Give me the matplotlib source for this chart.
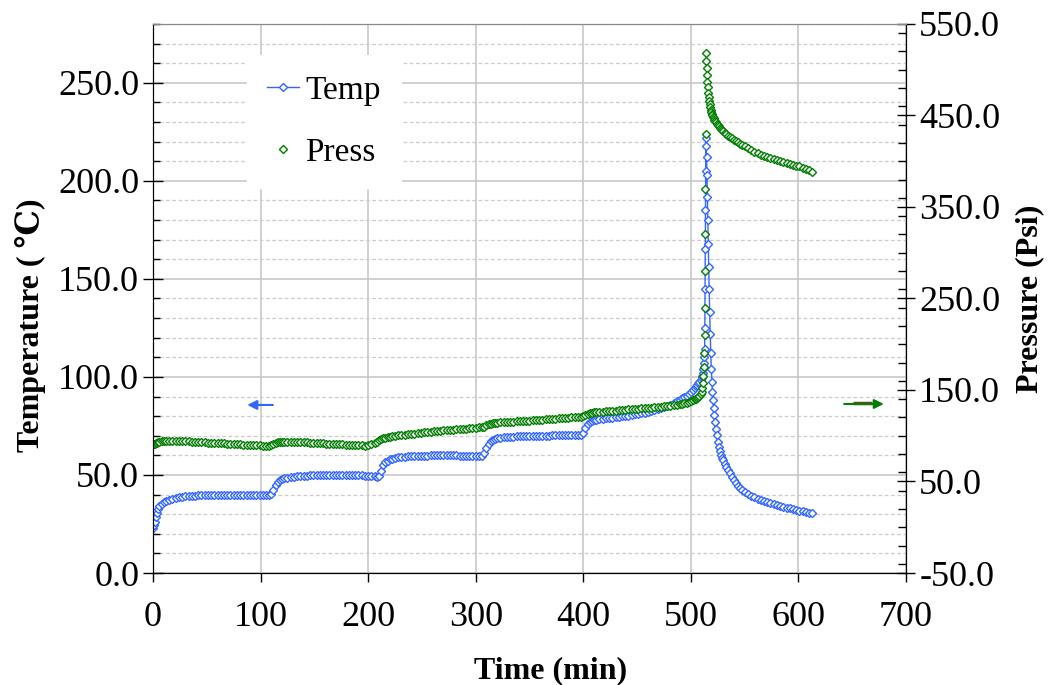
import matplotlib
matplotlib.use("Agg")
import matplotlib.pyplot as plt
from matplotlib.lines import Line2D
from matplotlib.ticker import MultipleLocator, FormatStrFormatter

plt.rcParams['font.family'] = ['Liberation Serif', 'DejaVu Serif']

# time (min)
time_min = [
    0, 1, 2, 3, 4, 5, 6, 8, 10, 12,
    15, 18, 21, 24, 27, 30, 33, 36, 39, 42, 45, 48, 51, 54, 57, 60,
    63, 66, 69, 72, 75, 78, 81, 84, 87, 90, 93, 96, 99, 102, 105, 108,
    110, 112, 114, 116, 118, 120, 122,
    125, 128, 131, 134, 137, 140, 143, 146, 149, 152, 155, 158, 161, 164,
    167, 170, 173, 176, 179, 182, 185, 188, 191, 194, 197, 200, 203, 206, 208,
    210, 212, 214, 216, 218, 220, 222,
    225, 228, 231, 234, 237, 240, 243, 246, 249, 252, 255, 258, 261, 264,
    267, 270, 273, 276, 279, 282, 285, 288, 291, 294, 297, 300, 303, 306,
    308, 310, 312, 314, 316, 318, 320,
    323, 326, 329, 332, 335, 338, 341, 344, 347, 350, 353, 356, 359, 362,
    365, 368, 371, 374, 377, 380, 383, 386, 389, 392, 395, 398,
    400, 402, 404, 406, 408, 410, 412,
    415, 418, 421, 424, 427, 430, 433, 436, 439, 442, 445, 448, 451, 454,
    457, 460, 463, 466, 469, 472, 475, 478, 481, 484, 487,
    490, 492, 494, 496, 498, 500, 502, 504, 505, 506, 507, 508, 509, 510, 510.5, 511,
    511.5, 512.0, 512.4, 512.8, 513.0, 513.2, 513.4, 513.6, 513.8, 514.0,
    514.3, 514.6, 515.0, 515.4, 515.8, 516.2, 516.6, 517.0, 517.5, 518.0,
    518.5, 519.0, 519.6, 520.1, 520.6, 521.1, 521.6, 522.2, 523.0, 524.0,
    525.0, 526.0, 527.0, 528.0, 529.0, 530.0, 531.5, 533.0, 534.5, 536.0,
    538.0, 540.0, 542.0, 544.0, 546.0, 548.0, 550.0,
    553, 556, 559, 562, 565, 568, 571, 574, 577, 580, 583, 586, 589, 592,
    595, 598, 601, 604, 607, 610, 613,
]

# temperature (C)
temp = [
    23.0, 24.5, 26.0, 28.5, 30.5, 32.5, 34.0, 35.2, 36.0, 36.7,
    37.4, 37.9, 38.3, 38.6, 38.9, 39.1, 39.3, 39.4, 39.5, 39.6, 39.7, 39.8, 39.8, 39.9, 39.9, 40.0,
    40.0, 40.0, 40.0, 40.0, 40.0, 40.0, 39.9, 39.9, 39.9, 39.9, 39.8, 39.8, 39.8, 39.7, 39.7, 39.6,
    40.5, 42.5, 45.0, 46.5, 47.3, 47.9, 48.3,
    48.7, 49.0, 49.2, 49.4, 49.5, 49.6, 49.7, 49.8, 49.9, 49.9, 50.0, 50.0, 50.0, 50.0,
    50.0, 50.0, 50.0, 50.0, 50.0, 49.9, 49.9, 49.9, 49.8, 49.8, 49.7, 49.7, 49.6, 49.3, 49.0,
    49.5, 52.0, 55.0, 56.5, 57.3, 57.9, 58.3,
    58.7, 59.0, 59.2, 59.4, 59.5, 59.6, 59.7, 59.8, 59.8, 59.9, 59.9, 60.0, 60.0, 60.0,
    60.0, 60.0, 60.0, 60.0, 60.0, 60.0, 59.9, 59.9, 59.9, 59.8, 59.8, 59.7, 59.7, 59.6,
    61.0, 63.5, 66.0, 67.3, 68.0, 68.4, 68.7,
    69.0, 69.2, 69.4, 69.5, 69.6, 69.7, 69.8, 69.8, 69.9, 69.9, 70.0, 70.0, 70.0, 70.1,
    70.1, 70.1, 70.2, 70.2, 70.2, 70.3, 70.3, 70.3, 70.4, 70.4, 70.4, 70.5,
    71.5, 74.0, 76.0, 77.0, 77.5, 77.8, 78.1,
    78.4, 78.7, 78.9, 79.1, 79.3, 79.5, 79.7, 79.9, 80.1, 80.3, 80.6, 80.9, 81.2, 81.5,
    81.8, 82.2, 82.6, 83.0, 83.5, 84.0, 84.5, 85.1, 85.8, 86.6, 87.5,
    88.4, 89.0, 89.7, 90.4, 91.3, 92.3, 93.4, 94.6, 95.3, 96.0, 96.8, 97.6, 98.5, 99.5, 100.5, 102.0,
    104.0, 107.0, 110.0, 114.0, 125.0, 145.0, 165.0, 185.0, 205.0, 222.0,
    218.0, 212.0, 203.0, 192.0, 180.0, 168.0, 156.0, 145.0, 133.0, 122.0,
    112.0, 104.0, 97.5, 92.5, 88.0, 84.0, 80.5, 77.0, 73.5, 70.4,
    67.0, 64.2, 62.0, 60.3, 58.8, 57.5, 55.6, 54.0, 52.3, 50.8,
    49.0, 47.2, 45.7, 44.4, 43.2, 42.1, 41.2,
    40.2, 39.3, 38.6, 37.9, 37.2, 36.6, 36.0, 35.5, 35.0, 34.6, 34.2, 33.8, 33.4, 33.0,
    32.6, 32.2, 31.8, 31.4, 31.1, 30.8, 30.5,
]

# pressure (psi)
press = [
    90.5, 91.0, 91.5, 92.0, 92.5, 93.0, 93.3, 93.8, 94.2, 94.5,
    94.6, 94.6, 94.5, 94.4, 94.2, 94.0, 93.8, 93.6, 93.4, 93.2, 93.0, 92.8, 92.6, 92.4, 92.2, 92.0,
    91.8, 91.6, 91.4, 91.2, 91.0, 90.8, 90.6, 90.4, 90.2, 90.0, 89.8, 89.6, 89.4, 89.2, 89.0, 88.9,
    89.5, 91.0, 92.5, 93.2, 93.5, 93.6, 93.6,
    93.5, 93.4, 93.3, 93.2, 93.0, 92.9, 92.7, 92.5, 92.3, 92.1, 91.9, 91.7, 91.5, 91.3,
    91.1, 90.9, 90.7, 90.5, 90.3, 90.1, 89.9, 89.7, 89.5, 89.4, 89.3, 89.5, 90.5, 92.0, 93.5,
    95.0, 96.3, 97.3, 98.0, 98.6, 99.1, 99.5,
    100.0, 100.4, 100.8, 101.2, 101.6, 102.0, 102.4, 102.8, 103.2, 103.6, 104.0, 104.4, 104.8, 105.2,
    105.5, 105.8, 106.1, 106.4, 106.7, 107.0, 107.3, 107.6, 107.9, 108.2, 108.5, 108.8, 109.1, 109.4,
    110.0, 111.2, 112.5, 113.3, 113.8, 114.1, 114.3,
    114.6, 114.8, 115.0, 115.2, 115.4, 115.6, 115.8, 116.0, 116.2, 116.4, 116.7, 117.0, 117.3, 117.6,
    117.9, 118.2, 118.5, 118.8, 119.1, 119.4, 119.6, 119.8, 120.0, 120.2, 120.4, 120.6,
    121.5, 122.7, 124.0, 124.8, 125.2, 125.5, 125.7,
    126.0, 126.3, 126.6, 126.9, 127.2, 127.5, 127.8, 128.1, 128.4, 128.7, 129.0, 129.3, 129.6, 129.9,
    130.2, 130.5, 130.8, 131.1, 131.4, 131.7, 132.0, 132.4, 132.8, 133.3, 133.9,
    134.6, 135.1, 135.6, 136.2, 136.9, 137.7, 138.6, 139.7, 140.4, 141.2, 142.2, 143.5, 145.2, 148.0, 152.0, 158.0,
    165.0, 175.0, 190.0, 210.0, 240.0, 280.0, 320.0, 370.0, 430.0, 518.0,
    510.0, 502.0, 494.0, 487.0, 481.0, 475.0, 470.0, 466.0, 462.0, 459.0,
    456.0, 454.0, 452.0, 450.0, 448.5, 447.0, 445.5, 444.0, 442.5, 441.0,
    439.5, 438.0, 436.7, 435.4, 434.1, 432.9, 431.2, 429.6, 428.1, 426.7,
    425.0, 423.4, 421.9, 420.5, 419.2, 418.0, 416.8,
    414.0, 412.0, 410.2, 408.5, 407.0, 405.6, 404.3, 403.1, 402.0, 400.9, 399.9, 398.9, 397.9, 397.0,
    396.1, 395.2, 394.3, 393.1, 391.6, 390.0, 388.5,
]

blue = "#3366ff"
green = "#008000"
msize = 4.2

fig = plt.figure(figsize=(10.59, 6.85), dpi=100)
ax1 = fig.add_axes([0.1445, 0.1635, 0.711, 0.8015])
ax2 = ax1.twinx()

# Temperature on the left axis
ax1.plot(time_min, temp, color=blue, lw=1, marker="D", markersize=msize,
         markerfacecolor="white", markeredgecolor=blue, markeredgewidth=1)

# Pressure on the right axis
ax2.plot(time_min, press, color=green, lw=0, marker="D", markersize=msize,
         markerfacecolor="white", markeredgecolor=green, markeredgewidth=1)

# Limits and ticks
ax1.set_xlim(0, 700)
ax1.set_ylim(0, 280)
ax2.set_ylim(-50, 550)

ax1.set_xticks(range(0, 701, 100))
ax1.set_yticks(range(0, 251, 50))
ax1.yaxis.set_minor_locator(MultipleLocator(10))
ax1.yaxis.set_major_formatter(FormatStrFormatter("%.1f"))
ax2.set_yticks(range(-50, 551, 100))
ax2.yaxis.set_minor_locator(MultipleLocator(20))
ax2.yaxis.set_major_formatter(FormatStrFormatter("%.1f"))

ax1.tick_params(axis="x", which="major", direction="out", length=6.5, width=1,
                labelsize=26, pad=14)
ax1.tick_params(axis="y", which="major", direction="inout", length=14, width=1,
                labelsize=26, pad=3)
ax1.tick_params(axis="y", which="minor", direction="in", length=5, width=1)
ax2.tick_params(axis="y", which="major", direction="inout", length=13, width=1,
                labelsize=26, pad=3)
ax2.tick_params(axis="y", which="minor", direction="in", length=6, width=1)

# Grid: solid on majors, dashed on minors
ax1.grid(which="major", axis="x", color="#c8c8c8", lw=1.2, linestyle="-")
ax1.grid(which="major", axis="y", color="#c8c8c8", lw=1.2, linestyle="-")
ax1.grid(which="minor", axis="y", color="#cccccc", lw=0.9, linestyle=(0, (3, 2)))
ax1.set_axisbelow(True)

for side in ["left", "bottom", "right"]:
    ax1.spines[side].set_color("black")
    ax2.spines[side].set_color("black")
ax1.spines["top"].set_color("#888888")
ax2.spines["top"].set_color("#888888")

# Axis titles
ax1.set_xlabel("Time (min)", fontsize=23, fontweight="bold")
ax1.xaxis.set_label_coords(0.528, -0.152)
ax1.set_ylabel("Temperature ( ℃)", fontsize=23, fontweight="bold")
ax1.yaxis.set_label_coords(-0.142, 0.452)
ax2.set_ylabel("Pressure (Psi)", fontsize=23, fontweight="bold")
ax2.yaxis.set_label_coords(1.145, 0.5)

# Arrows showing which axis each series uses
ax1.annotate("", xy=(85, 85.7), xytext=(114, 85.7),
             arrowprops=dict(arrowstyle="-|>", color=blue, lw=1.5, mutation_scale=14))
ax1.annotate("", xy=(682, 86.2), xytext=(640, 86.2),
             arrowprops=dict(arrowstyle="-|>", color=green, lw=1.5, mutation_scale=14))
ax1.plot([651, 668], [86.5, 86.5], color="#7b3f1f", lw=2.5, solid_capstyle="butt")

# Legend
handles = [
    Line2D([], [], color=blue, lw=1, marker="D", markersize=msize,
           markerfacecolor="white", markeredgecolor=blue),
    Line2D([], [], color=green, lw=0, marker="D", markersize=msize,
           markerfacecolor="white", markeredgecolor=green),
]
leg = ax2.legend(handles, ["Temp", "Press"], loc="upper left",
                 bbox_to_anchor=(0.125, 0.943), borderaxespad=0,
                 fontsize=24, frameon=True, fancybox=False, framealpha=1,
                 edgecolor="white", handlelength=0.95, handletextpad=0.2,
                 labelspacing=0.95, borderpad=0.6)

fig.savefig("out.png", dpi=100)
